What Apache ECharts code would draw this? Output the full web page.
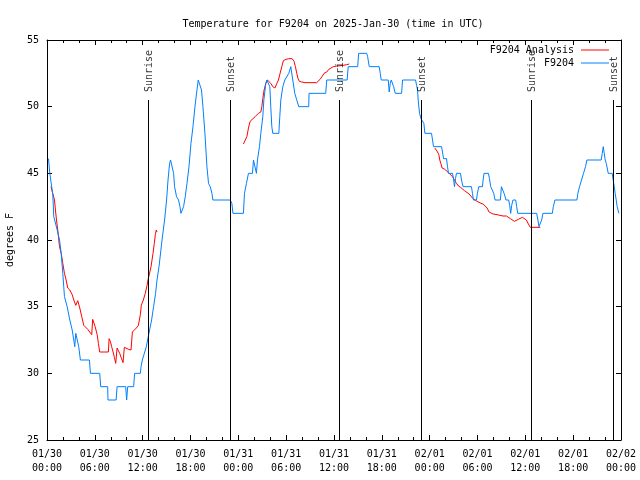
<!DOCTYPE html>
<html><head><meta charset="utf-8">
<script src="https://cdn.jsdelivr.net/npm/echarts@6/dist/echarts.min.js"></script>
<style>html,body{margin:0;padding:0;background:#fff}#c{width:640px;height:480px}</style>
</head><body><div id="c"></div>
<script>
// hours since 2025-01-30 00:00 UTC
const xTickLabels = ["01/30\n00:00","01/30\n06:00","01/30\n12:00","01/30\n18:00","01/31\n00:00","01/31\n06:00","01/31\n12:00","01/31\n18:00","02/01\n00:00","02/01\n06:00","02/01\n12:00","02/01\n18:00","02/02\n00:00"];

const obsHours = [0.19,0.35,0.73,0.85,1.28,1.57,1.78,1.98,2.1,2.19,2.53,2.86,3.16,3.36,3.48,3.61,3.86,3.98,4.19,5.32,5.45,6.61,6.74,7.61,7.65,8.67,8.79,9.87,9.99,10.12,10.87,10.99,11.71,11.8,11.96,12.46,12.62,12.87,13.12,13.37,13.62,13.8,14.05,14.43,14.75,15.0,15.18,15.38,15.5,15.75,15.88,16.0,16.25,16.5,16.68,16.8,17.0,17.13,17.34,17.56,17.81,18.06,18.31,18.56,18.81,18.97,19.22,19.38,19.56,19.81,20.06,20.26,20.47,20.69,20.81,22.98,23.19,23.32,24.64,24.77,25.02,25.27,25.77,25.9,26.15,26.27,26.4,26.65,26.82,27.07,27.2,27.45,27.57,27.82,27.95,28.07,28.2,28.32,29.08,29.2,29.33,29.58,29.83,30.08,30.33,30.58,30.7,30.83,31.08,31.33,31.58,32.83,32.87,34.96,35.09,37.65,37.78,38.97,39.09,40.1,40.22,40.42,41.67,41.8,41.92,42.8,42.93,43.05,43.18,43.35,43.48,43.68,44.48,44.6,46.23,46.36,46.48,46.56,46.73,46.83,46.9,47.06,47.27,47.4,48.23,48.36,48.48,49.49,49.61,49.74,50.11,50.24,50.36,50.86,50.99,51.11,51.24,51.36,51.87,51.99,52.19,53.24,53.37,53.49,53.87,53.99,54.16,54.62,54.7,54.82,55.37,55.5,55.66,55.91,56.04,56.2,56.87,57.0,57.2,57.33,57.58,57.91,58.04,58.16,58.29,58.45,58.79,58.92,59.04,61.42,61.58,61.71,61.92,62.05,62.21,63.39,63.51,63.71,66.47,66.59,66.8,67.05,67.3,67.55,67.72,69.52,69.65,69.77,69.9,70.02,70.15,70.4,70.9,71.02,71.15,71.27,71.4,71.52,71.73];
const obsTemps = [46.1,45.0,43.4,41.75,40.75,40,39,37.5,36.5,35.75,35,34,33.25,32.5,32,33,33,32,31,31,30,30,29,29,28,28,29,29,28,29,29,30,30,30.5,31,32,32.5,33.25,34,35,36,37,38,40,41.5,43,44.5,45.75,46,46,45,44,43.25,43,42.5,42,42,42.5,43.25,44.25,45.5,47.25,48.5,50,51.25,52,52,51.25,50,48,45.5,44.25,44,43.5,43,43,42.75,42,42,43.5,44.25,45,45,46,46,45,46,47,48,49.25,50.5,51.75,52,52,51.5,50,48.5,48,48,49.25,50.5,51.5,52,52,52.5,53,53,52,51,50.5,50,50,51,51,52,52,53,53,54,54,53.75,53,53,52.5,52,52,51.1,51.75,52,52,51.5,51,51,52,52,51.6,51.25,50.5,49.5,49.3,49.1,49,48.75,48,48,47.5,47,47,46.6,46.1,46.1,45.5,45,45,44.6,44,44.6,45,45,44.5,44,44,43.5,43,43,43.5,44,44,44.5,45,45,44.6,44,44,43.5,43,43,44,44,43.5,43,43,42.6,42,42.6,43,43,42.5,42,42,41.5,41,41,41.5,42,42,42.5,43,43,43.5,44,44.5,45,45.5,46,46,46.5,47,46.5,46,45.75,45,45,44.5,44,43.5,43,42.5,42];

// null = no analysis value (gap)
const anaHours = [0.5,0.94,1.06,1.19,1.35,1.48,1.57,1.78,1.98,2.19,2.4,2.6,2.86,3.16,3.36,3.61,3.86,4.11,4.36,4.61,4.86,5.11,5.36,5.61,5.73,5.86,6.04,6.29,6.45,6.61,7.7,7.79,7.95,8.11,8.29,8.45,8.62,8.79,8.95,9.12,9.29,9.54,9.7,9.95,10.24,10.54,10.71,10.96,11.21,11.46,11.62,11.71,11.83,12.08,12.33,12.55,12.67,12.8,13.05,13.3,13.46,13.59,13.71,13.8,
  19.0,
  24.64,24.89,25.07,25.27,25.48,25.69,26.11,26.52,26.82,26.95,27.07,27.23,27.45,27.65,27.82,28.07,28.32,28.58,28.83,29.03,29.24,29.45,29.65,29.99,30.33,30.74,30.99,31.16,31.33,31.49,31.66,31.96,32.37,32.99,33.83,34.03,34.25,34.5,34.75,35.09,35.34,35.59,35.91,36.34,36.75,37.17,37.59,37.92,
  43.0,
  48.65,48.86,48.99,49.15,49.27,49.4,49.56,49.69,49.9,50.11,50.36,50.61,50.86,51.11,51.36,51.61,51.87,52.12,52.37,52.62,52.94,53.19,53.44,53.69,53.94,54.19,54.44,54.7,54.95,55.2,55.45,55.7,55.95,56.2,56.45,56.79,57.2,57.63,57.88,58.13,58.38,58.63,58.88,59.13,59.38,59.63,59.88,60.13,60.38,60.63,61.88];
const anaTemps = [44,43,42.25,41.5,40.75,40,39.5,39,38.25,37.5,37,36.4,36.25,35.9,35.5,35.1,35.45,34.9,34.25,33.6,33.5,33.3,33.1,32.9,34.05,34.0,33.5,32.9,32.25,31.6,31.6,32.6,32.4,32,31.6,31.2,30.75,31.9,31.75,31.5,31.2,30.8,31.95,31.9,31.8,31.75,33.1,33.25,33.4,33.6,33.75,34.4,35.1,35.5,36,36.6,37,37.1,38,39,39.75,40.4,40.75,40.6,
  null,
  47.2,47.2,47.75,48.4,48.9,49.05,49.25,49.5,49.6,50,50.6,51.25,51.75,52,51.9,51.75,51.5,51.4,51.45,52,52.5,53,53.45,53.55,53.6,53.6,53.4,53,52.5,52.1,51.9,51.85,51.8,51.8,51.8,51.85,52.05,52.25,52.5,52.6,52.8,52.95,53,53.05,53.07,53.1,53.15,53.2,
  null,
  46.9,46.9,46.6,46.4,46,45.75,45.4,45.3,45.3,45.2,45.05,44.9,44.75,44.5,44.25,44.05,43.95,43.9,43.7,43.55,43.45,43.3,43.1,43,42.9,42.8,42.75,42.7,42.55,42.4,42.1,42,41.95,41.9,41.9,41.85,41.8,41.8,41.75,41.6,41.5,41.4,41.45,41.55,41.65,41.7,41.7,41.5,41.2,40.95,40.95];

const sunHours = [12.75, 23.04, 36.67, 46.93, 60.7, 71.0];
const sunNames = ["Sunrise","Sunset","Sunrise","Sunset","Sunrise","Sunset"];

const FONT = "'DejaVu Sans Mono', 'Liberation Mono', monospace";
const chart = echarts.init(document.getElementById('c'), null, {renderer:'canvas'});

const axisCommon = {
  axisLine:{show:true, onZero:false, lineStyle:{color:'#000', width:1}},
  axisTick:{show:true, inside:true, length:5, lineStyle:{color:'#000'}},
  splitLine:{show:false}
};
const xBase = Object.assign({}, axisCommon, {
  type:'value', min:0, max:72, interval:6,
  minorTick:{show:true, splitNumber:3, length:3, lineStyle:{color:'#000'}},
  minorSplitLine:{show:false}
});
const yBase = Object.assign({}, axisCommon, {type:'value', min:25, max:55, interval:5});

chart.setOption({
  animation:false,
  backgroundColor:'#fff',
  title:{text:'Temperature for F9204 on 2025-Jan-30 (time in UTC)', left:328, textAlign:'center', top:14,
    textStyle:{fontFamily:FONT, fontSize:10, fontWeight:'normal', color:'#000'}},
  grid:{left:47, right:19, top:40, bottom:40, containLabel:false, outerBoundsMode:'none'},
  legend:[
    {data:['F9204 Analysis'], right:31, top:45, padding:0, align:'right', icon:'rect', itemWidth:28, itemHeight:1, itemGap:0,
      textStyle:{fontFamily:FONT, fontSize:10, color:'#000', padding:[0,2,0,0]}},
    {data:['F9204'], right:31, top:58, padding:0, align:'right', icon:'rect', itemWidth:28, itemHeight:1, itemGap:0,
      textStyle:{fontFamily:FONT, fontSize:10, color:'#000', padding:[0,2,0,0]}}
  ],
  xAxis:[
    Object.assign({}, xBase, {position:'bottom',
      axisLabel:{show:true, formatter:v=>xTickLabels[Math.round(v/6)], fontFamily:FONT, fontSize:10, color:'#000', lineHeight:14, margin:7}}),
    Object.assign({}, xBase, {position:'top', axisLabel:{show:false}})
  ],
  yAxis:[
    Object.assign({}, yBase, {position:'left', name:'degrees F', nameLocation:'middle', nameGap:32, nameRotate:90,
      nameTextStyle:{fontFamily:FONT, fontSize:10, color:'#000'},
      axisLabel:{fontFamily:FONT, fontSize:10, color:'#000', margin:8}}),
    Object.assign({}, yBase, {position:'right', axisLabel:{show:false}})
  ],
  series:[
    {name:'F9204 Analysis', type:'line', xAxisIndex:0, yAxisIndex:0, showSymbol:false, connectNulls:false,
      color:'#ff0000', lineStyle:{color:'#ff0000', width:1},
      data:anaHours.map((h,i)=>[h, anaTemps[i]===null ? '-' : anaTemps[i]])},
    {name:'F9204', type:'line', xAxisIndex:0, yAxisIndex:0, showSymbol:false,
      color:'#0080ff', lineStyle:{color:'#0080ff', width:1},
      data:obsHours.map((h,i)=>[h, obsTemps[i]])},
    {name:'sun', type:'scatter', xAxisIndex:0, yAxisIndex:0, symbolSize:0, silent:true, z:5,
      data:sunHours.map(h=>[h, 51.1]),
      label:{show:true, formatter:p=>sunNames[p.dataIndex], position:[1,0], rotate:90, align:'left', verticalAlign:'middle',
        fontFamily:FONT, fontSize:10, color:'#000'},
      markLine:{silent:true, symbol:['none','none'], label:{show:false}, animation:false,
        lineStyle:{color:'#000', width:1, type:'solid'},
        data:sunHours.map(h=>[{coord:[h,25]},{coord:[h,50.5]}])}}
  ]
});
</script></body></html>
